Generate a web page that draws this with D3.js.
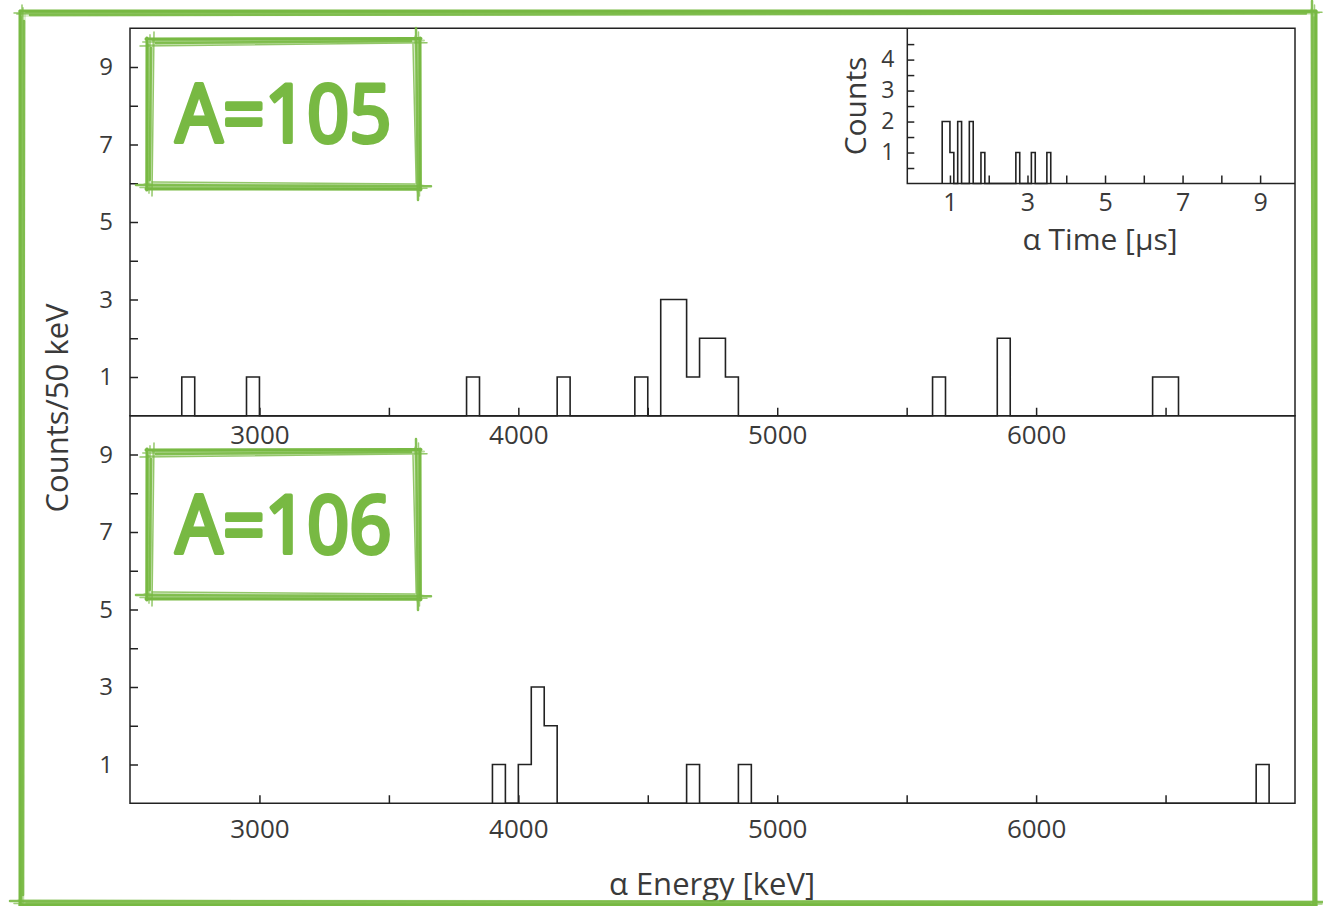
<!DOCTYPE html>
<html>
<head>
<meta charset="utf-8">
<style>
  body { margin: 0; background: #fff; }
  text { font-family: "Open Sans", "DejaVu Sans", sans-serif; font-weight: 400; fill: #3a3a3a; }
  .frame { fill: none; stroke: #222; stroke-width: 1.5; }
  .hist { fill: none; stroke: #222; stroke-width: 1.6; }
  .tag { font-family: "Comic Sans MS", "Noto Sans", sans-serif; font-weight: 400; fill: #78b943; stroke: #78b943; stroke-width: 4; stroke-linejoin: round; stroke-linecap: round; }
</style>
</head>
<body>
<svg id="chart" width="1323" height="906"></svg>
<script src="https://cdn.jsdelivr.net/npm/d3@7"></script>
<script>
// alpha energy histograms, 50 keV bins (bin start -> counts)
const binStart105 = [2700, 2950, 3800, 4150, 4450, 4550, 4600, 4650, 4700, 4750, 4800, 5600, 5850, 6450, 6500]
const counts105   = [1, 1, 1, 1, 1, 3, 3, 1, 2, 2, 1, 1, 2, 1, 1]
const binStart106 = [3900, 4000, 4050, 4100, 4650, 4850, 6850]
const counts106   = [1, 1, 3, 2, 1, 1, 1]
// inset: alpha time, 0.1 us bins
const timeStart  = [0.8, 0.9, 1.0, 1.2, 1.5, 1.8, 2.7, 3.1, 3.5]
const timeCounts = [2, 2, 1, 2, 2, 1, 1, 1, 1]

const energyTicks = [3000, 4000, 5000, 6000]
const countTicks = [1, 3, 5, 7, 9]
const timeTicks = [1, 3, 5, 7, 9]
const insetCountTicks = [1, 2, 3, 4]
const tags = ["A=105", "A=106"]

const green = "#78b943"
const svg = d3.select("#chart")

let x = d3.scaleLinear().domain([2500, 7000]).range([130, 1295])
let yTop = d3.scaleLinear().domain([0, 10]).range([415.75, 28.25])
let yBot = d3.scaleLinear().domain([0, 10]).range([803.25, 415.75])

function histPath(starts, counts, w, xs, ys) {
    let key = v => Math.round(v / w)
    let m = new Map(starts.map((s, i) => [key(s), counts[i]]))
    let k0 = d3.min(starts, key), k1 = d3.max(starts, key)
    let pts = [[k0 * w, 0]]
    for (let k = k0; k <= k1; k++) {
        let c = m.get(k) || 0
        pts.push([k * w, c], [(k + 1) * w, c])
    }
    pts.push([(k1 + 1) * w, 0])
    return d3.line().x(d => xs(d[0])).y(d => ys(d[1]))(pts)
}

function panel(ys, starts, counts, labelPad) {
    let g = svg.append("g")
    g.append("rect").attr("class", "frame")
        .attr("x", x.range()[0]).attr("y", ys.range()[1])
        .attr("width", x.range()[1] - x.range()[0])
        .attr("height", ys.range()[0] - ys.range()[1])

    let xa = g.append("g").attr("transform", `translate(0,${ys.range()[0]})`)
        .call(d3.axisBottom(x).tickValues(d3.range(3000, 7000, 500)).tickSize(-8).tickPadding(labelPad)
            .tickFormat(d => energyTicks.includes(d) ? d : ""))
    xa.select(".domain").remove()
    xa.selectAll("line").attr("stroke", "#222").attr("stroke-width", 1.5)
    xa.selectAll("text").style("font-size", "26px").attr("fill", "#3a3a3a")

    let ya = g.append("g").attr("transform", `translate(${x.range()[0]},0)`)
        .call(d3.axisLeft(ys).tickValues(d3.range(1, 10)).tickSize(-8).tickPadding(17)
            .tickFormat(d => countTicks.includes(d) ? d : ""))
    ya.select(".domain").remove()
    ya.selectAll("line").attr("stroke", "#222").attr("stroke-width", 1.5)
    ya.selectAll("text").style("font-size", "24px").attr("fill", "#3a3a3a")

    g.append("path").attr("class", "hist").attr("d", histPath(starts, counts, 50, x, ys))
}

panel(yBot, binStart106, counts106, 16)
panel(yTop, binStart105, counts105, 10)

// inset
let xi = d3.scaleLinear().domain([-0.1, 9.9]).range([907.3, 1295])
let yi = d3.scaleLinear().domain([0, 5.02]).range([183.5, 28])
let ig = svg.append("g")
ig.append("path").attr("class", "frame")
    .attr("d", `M${xi.range()[0]},${yi.range()[1]}V${yi.range()[0]}H${xi.range()[1]}`)
ig.append("path").attr("class", "hist").attr("d", histPath(timeStart, timeCounts, 0.1, xi, yi))
let xia = ig.append("g").attr("transform", `translate(0,${yi.range()[0]})`)
    .call(d3.axisBottom(xi).tickValues(d3.range(1, 10)).tickSize(-8).tickPadding(10)
        .tickFormat(d => timeTicks.includes(d) ? d : ""))
xia.select(".domain").remove()
xia.selectAll("line").attr("stroke", "#222").attr("stroke-width", 1.5)
xia.selectAll("text").style("font-size", "25px").attr("fill", "#3a3a3a")
let yia = ig.append("g").attr("transform", `translate(${xi.range()[0]},0)`)
    .call(d3.axisLeft(yi).tickValues(d3.range(0.5, 5, 0.5)).tickSize(-7).tickPadding(13)
        .tickFormat(d => insetCountTicks.includes(d) ? d : ""))
yia.select(".domain").remove()
yia.selectAll("line").attr("stroke", "#222").attr("stroke-width", 1.5)
yia.selectAll("text").style("font-size", "23px").attr("fill", "#3a3a3a")

ig.append("text").attr("transform", "translate(866,106) rotate(-90)")
    .attr("text-anchor", "middle").style("font-size", "30px").text("Counts")
ig.append("text").attr("x", 1100).attr("y", 250)
    .attr("text-anchor", "middle").style("font-size", "30px").text("α Time [µs]")

// axis titles
svg.append("text").attr("transform", "translate(68,408) rotate(-90)")
    .attr("text-anchor", "middle").style("font-size", "31px").text("Counts/50 keV")
svg.append("text").attr("x", 712).attr("y", 895)
    .attr("text-anchor", "middle").style("font-size", "31px").text("α Energy [keV]")

// brushed green frames
function brushRect(x0, y0, x1, y1, offs) {
    let g = svg.append("g").attr("fill", "none").attr("stroke", green).attr("stroke-linecap", "round")
    offs.forEach((o, i) => {
        let sw = [3, 1.5, 2, 2.5, 1, 1.5][i % 6]
        let op = [1, 0.7, 0.55, 0.9, 0.45, 0.8][i % 6]
        let j = [0, 6, -3, 10, 2, -6][i % 6]
        g.append("line").attr("x1", x0 + j).attr("y1", y0 + o).attr("x2", x1 - j).attr("y2", y0 + o * 0.6)
            .attr("stroke-width", sw).attr("opacity", op)
        g.append("line").attr("x1", x0 - j).attr("y1", y1 - o).attr("x2", x1 + j).attr("y2", y1 - o * 0.75)
            .attr("stroke-width", sw).attr("opacity", op)
        g.append("line").attr("x1", x0 + o).attr("y1", y0 + j).attr("x2", x0 + o * 0.75).attr("y2", y1 - j)
            .attr("stroke-width", sw).attr("opacity", op)
        g.append("line").attr("x1", x1 - o).attr("y1", y0 - j).attr("x2", x1 - o * 0.6).attr("y2", y1 + j)
            .attr("stroke-width", sw).attr("opacity", op)
    })
}

let tagBoxes = [[146, 38, 421, 190], [146, 449, 421, 600]]
tagBoxes.forEach((b, i) => {
    brushRect(b[0], b[1], b[2], b[3], [1, 2.5, 4, 5, 6.5, 8])
    svg.append("text").attr("class", "tag")
        .attr("x", (b[0] + b[2]) / 2).attr("y", b[1] + 104)
        .attr("text-anchor", "middle")
        .attr("textLength", 216).attr("lengthAdjust", "spacingAndGlyphs")
        .style("font-size", "80px").text(tags[i])
})

// outer frame
brushRect(20, 11, 1316, 905, [0, 1.5, 3, 4, 5, 2])
</script>
</body>
</html>
